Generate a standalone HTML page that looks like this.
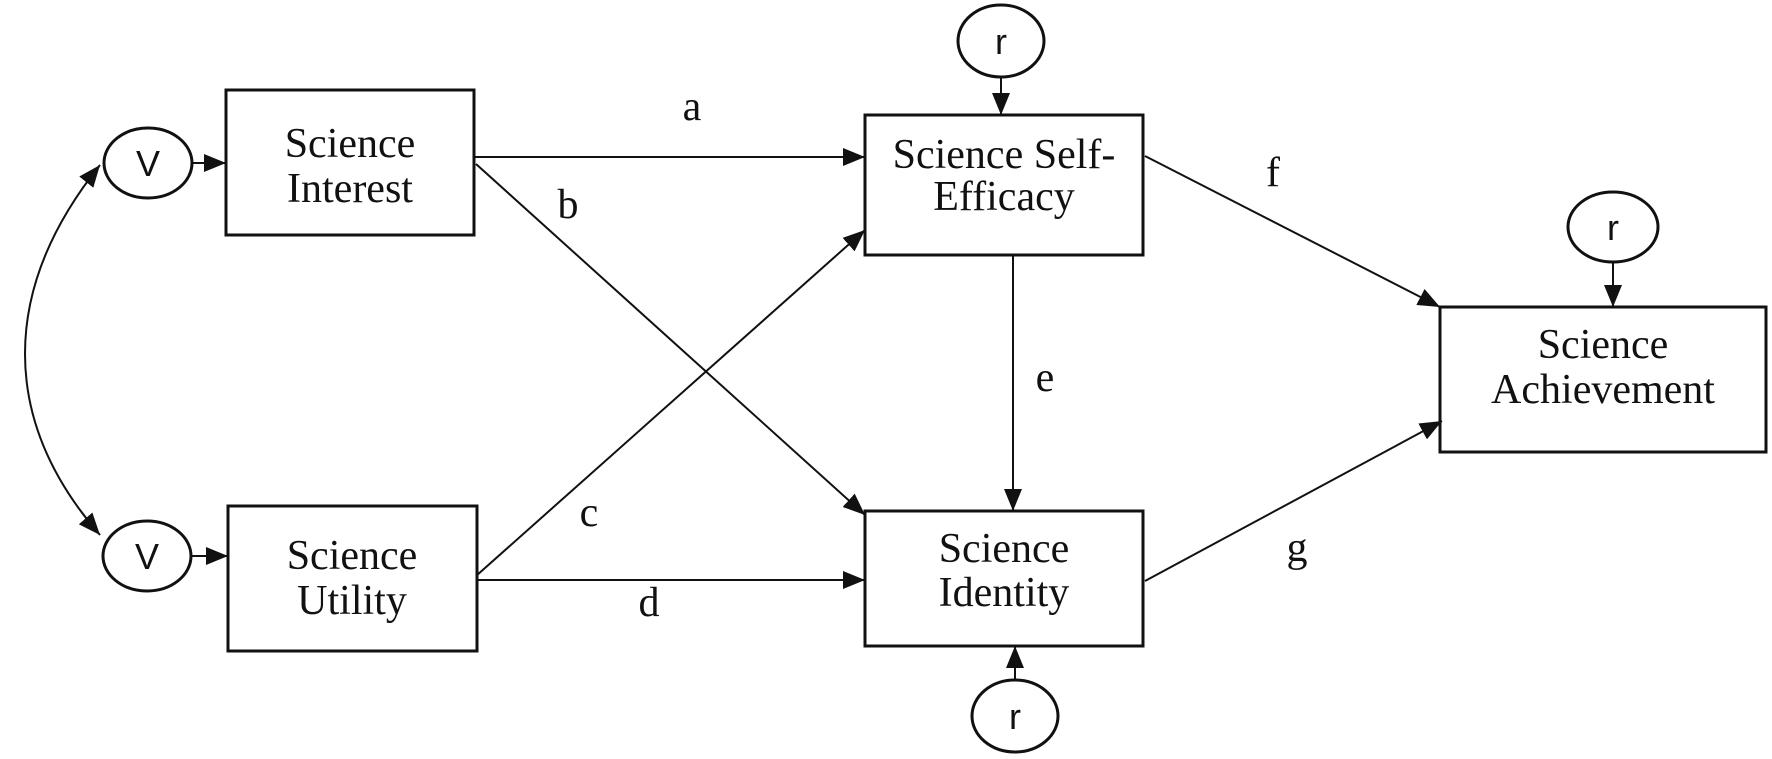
<!DOCTYPE html>
<html><head><meta charset="utf-8"><style>
html,body{margin:0;padding:0;background:#fff;}
svg{display:block;}
text{font-family:"Liberation Serif",serif;font-size:42px;fill:#111;text-anchor:middle;}
.s{font-family:"Liberation Sans",sans-serif;font-size:36px;}
</style></head><body>
<svg width="1772" height="759" viewBox="0 0 1772 759" xmlns="http://www.w3.org/2000/svg">
<defs>
<marker id="a" viewBox="0 0 22 18" refX="22" refY="9" markerWidth="22" markerHeight="18" orient="auto-start-reverse" markerUnits="userSpaceOnUse">
<path d="M0,0 L22,9 L0,18 z" fill="#111"/>
</marker>
</defs>
<g fill="none" stroke="#111" stroke-width="3">
<rect x="226" y="90" width="248" height="145"/>
<rect x="228" y="506" width="249" height="145"/>
<rect x="865" y="115" width="278" height="140"/>
<rect x="865" y="511" width="278" height="135"/>
<rect x="1440" y="307" width="326" height="145"/>
<ellipse cx="148" cy="163" rx="44" ry="35"/>
<ellipse cx="147" cy="556" rx="44" ry="35"/>
<ellipse cx="1001" cy="41" rx="43" ry="36"/>
<ellipse cx="1015" cy="716" rx="43" ry="36"/>
<ellipse cx="1613" cy="227" rx="45" ry="35"/>
</g>
<g fill="none" stroke="#111" stroke-width="2" marker-end="url(#a)">
<path d="M192,163 L226,163"/>
<path d="M191,556 L228,556"/>
<path d="M474,157 L865,157"/>
<path d="M476,164 L865,515"/>
<path d="M476,576 L865,230"/>
<path d="M477,580 L865,580"/>
<path d="M1013,255 L1013,511"/>
<path d="M1001,77 L1001,115"/>
<path d="M1015,680 L1015,646"/>
<path d="M1613,262 L1613,307"/>
<path d="M1145,156 L1440,307"/>
<path d="M1145,581 L1442,421"/>
<path d="M100,535 C0,420 0,290 100,165" marker-start="url(#a)"/>
</g>
<text x="350" y="157">Science</text>
<text x="350" y="202">Interest</text>
<text x="352" y="569">Science</text>
<text x="352" y="614">Utility</text>
<text x="1004" y="168">Science Self-</text>
<text x="1004" y="210">Efficacy</text>
<text x="1004" y="562">Science</text>
<text x="1004" y="606">Identity</text>
<text x="1603" y="358">Science</text>
<text x="1603" y="403">Achievement</text>
<text x="692" y="120">a</text>
<text x="568" y="218">b</text>
<text x="589" y="526">c</text>
<text x="649" y="616">d</text>
<text x="1045" y="391">e</text>
<text x="1273" y="186">f</text>
<text x="1297" y="561">g</text>
<text class="s" x="148" y="176">V</text>
<text class="s" x="147" y="569">V</text>
<text class="s" x="1001" y="54">r</text>
<text class="s" x="1015" y="729">r</text>
<text class="s" x="1613" y="240">r</text>
</svg>
</body></html>
